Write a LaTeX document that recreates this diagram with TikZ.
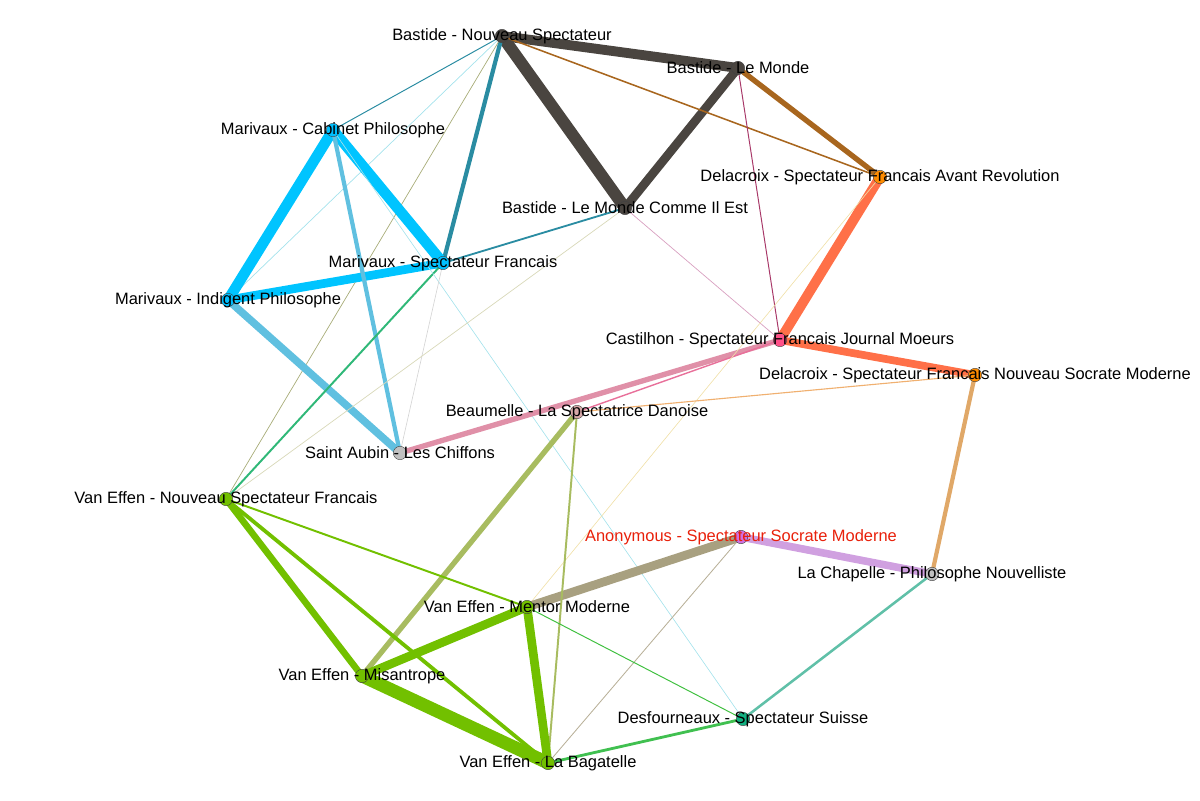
\documentclass[tikz,border=0pt]{standalone}
\usepackage{fontspec}
\setmainfont{Liberation Sans}
\definecolor{cDark}{HTML}{4A4540}
\definecolor{cBrown}{HTML}{A8661E}
\definecolor{cTeal}{HTML}{2A8CA2}
\definecolor{cCyan}{HTML}{A4E2EC}
\definecolor{cOlive}{HTML}{A8AC78}
\definecolor{cBlue}{HTML}{00C4FF}
\definecolor{cBlueL}{HTML}{60C0E0}
\definecolor{cGreenT}{HTML}{30B878}
\definecolor{cGrayL}{HTML}{D4D4D4}
\definecolor{cBeige}{HTML}{D8D8B8}
\definecolor{cMaroon}{HTML}{A83868}
\definecolor{cPinkL}{HTML}{D8A0C0}
\definecolor{cOrangeR}{HTML}{FF7048}
\definecolor{cPinkM}{HTML}{E090A8}
\definecolor{cPinkS}{HTML}{E8709A}
\definecolor{cYellow}{HTML}{F0E0A8}
\definecolor{cOrangeL}{HTML}{F0B070}
\definecolor{cTan}{HTML}{E0A868}
\definecolor{cLav}{HTML}{D0A0E0}
\definecolor{cTealL}{HTML}{60C0A8}
\definecolor{cKhaki}{HTML}{A8A080}
\definecolor{cKhakiT}{HTML}{B8B098}
\definecolor{cOliveG}{HTML}{A8BC60}
\definecolor{cGreen}{HTML}{72C000}
\definecolor{cGreenS}{HTML}{40C040}
\definecolor{cGreenD}{HTML}{40C050}
% node fills
\definecolor{fBlue}{HTML}{00BFFF}
\definecolor{fOrange}{HTML}{FF8C00}
\definecolor{fPink}{HTML}{FF5088}
\definecolor{fRose}{HTML}{D8A8A8}
\definecolor{fGray}{HTML}{C0C0C0}
\definecolor{fPurple}{HTML}{D070E0}
\definecolor{fTeal}{HTML}{10B080}
\definecolor{cRed}{HTML}{E8200A}
\tikzset{
	dot/.style={circle, draw=black!75, line width=0.3pt, inner sep=0pt, minimum size=9.5pt, fill=#1},
	lab/.style={inner sep=0pt, font=\fontsize{11.7}{14}\selectfont}
}
\begin{document}
\begin{tikzpicture}[x=0.025cm, y=-0.025cm]
	\useasboundingbox (0,0) rectangle (1200,800);
	% positions
	\coordinate (bns) at (502,36);
	\coordinate (blm) at (738,68);
	\coordinate (mcp) at (333,130);
	\coordinate (dar) at (880,177);
	\coordinate (blc) at (625,208);
	\coordinate (msf) at (443,263);
	\coordinate (mip) at (228,300);
	\coordinate (cas) at (780,340);
	\coordinate (dns) at (975,375);
	\coordinate (bea) at (577,412);
	\coordinate (sac) at (400,453);
	\coordinate (vnsf) at (226,499);
	\coordinate (ano) at (741,537);
	\coordinate (lac) at (932,574);
	\coordinate (vmm) at (527,607);
	\coordinate (vmi) at (362,676);
	\coordinate (des) at (743,719);
	\coordinate (vlb) at (548,763);
	% links
	\foreach \a/\b/\w/\c in {bns/blm/7/cDark, bns/blc/8.5/cDark, blm/blc/6.2/cDark,
		bns/dar/1.1/cBrown, blm/dar/3.8/cBrown, bns/msf/3/cTeal, bns/mcp/0.7/cTeal,
		bns/mip/0.5/cCyan, bns/vnsf/0.5/cOlive, mcp/msf/7.6/cBlue, mcp/mip/7.6/cBlue,
		msf/mip/6.2/cBlue, mcp/sac/3/cBlueL, mip/sac/5.4/cBlueL, msf/blc/1.3/cTeal,
		msf/vnsf/1.4/cGreenT, mcp/des/0.45/cCyan, msf/sac/0.45/cGrayL, vnsf/blc/0.5/cBeige,
		blm/cas/0.7/cMaroon, blc/cas/0.5/cPinkL, dar/cas/7/cOrangeR, cas/dns/5.5/cOrangeR,
		cas/sac/3.8/cPinkM, cas/bea/1/cPinkS, dar/vmm/0.45/cYellow, dns/bea/0.8/cOrangeL,
		dns/lac/3/cTan, ano/lac/5.4/cLav, lac/des/1.8/cTealL, ano/vmm/6.2/cKhaki,
		ano/vlb/0.6/cKhakiT, bea/vmi/3.8/cOliveG, bea/vlb/1.4/cOliveG, vnsf/vmi/4.7/cGreen,
		vnsf/vlb/2.7/cGreen, vnsf/vmm/1.4/cGreen, vmi/vmm/6.2/cGreen, vmi/vlb/9.2/cGreen,
		vmm/vlb/6.2/cGreen, vmm/des/0.7/cGreenS, vlb/des/2/cGreenD}
		\draw[line width=\w pt, \c] (\a) -- (\b);
	% dots
	\foreach \p/\f in {bns/cDark, blm/cDark, blc/cDark, mcp/fBlue, msf/fBlue, mip/fBlue,
		dar/fOrange, dns/fOrange, cas/fPink, bea/fRose, sac/fGray, lac/fGray,
		vnsf/cGreen, vmm/cGreen, vmi/cGreen, vlb/cGreen, ano/fPurple, des/fTeal}
		\node[dot=\f] (\p-dot) at (\p) {};
	% labels
	\node[lab] (bns-lab) at (bns) {Bastide - Nouveau Spectateur};
	\node[lab] (blm-lab) at (blm) {Bastide - Le Monde};
	\node[lab] (mcp-lab) at (mcp) {Marivaux - Cabinet Philosophe};
	\node[lab] (dar-lab) at (dar) {Delacroix - Spectateur Francais Avant Revolution};
	\node[lab] (blc-lab) at (blc) {Bastide - Le Monde Comme Il Est};
	\node[lab] (msf-lab) at (msf) {Marivaux - Spectateur Francais};
	\node[lab] (mip-lab) at (mip) {Marivaux - Indigent Philosophe};
	\node[lab] (cas-lab) at (cas) {Castilhon - Spectateur Francais Journal Moeurs};
	\node[lab] (dns-lab) at (dns) {Delacroix - Spectateur Francais Nouveau Socrate Moderne};
	\node[lab] (bea-lab) at (bea) {Beaumelle - La Spectatrice Danoise};
	\node[lab] (sac-lab) at (sac) {Saint Aubin - Les Chiffons};
	\node[lab] (vnsf-lab) at (vnsf) {Van Effen - Nouveau Spectateur Francais};
	\node[lab, text=cRed] (ano-lab) at (ano) {Anonymous - Spectateur Socrate Moderne};
	\node[lab] (lac-lab) at (lac) {La Chapelle - Philosophe Nouvelliste};
	\node[lab] (vmm-lab) at (vmm) {Van Effen - Mentor Moderne};
	\node[lab] (vmi-lab) at (vmi) {Van Effen - Misantrope};
	\node[lab] (des-lab) at (des) {Desfourneaux - Spectateur Suisse};
	\node[lab] (vlb-lab) at (vlb) {Van Effen - La Bagatelle};
\end{tikzpicture}
\end{document}
